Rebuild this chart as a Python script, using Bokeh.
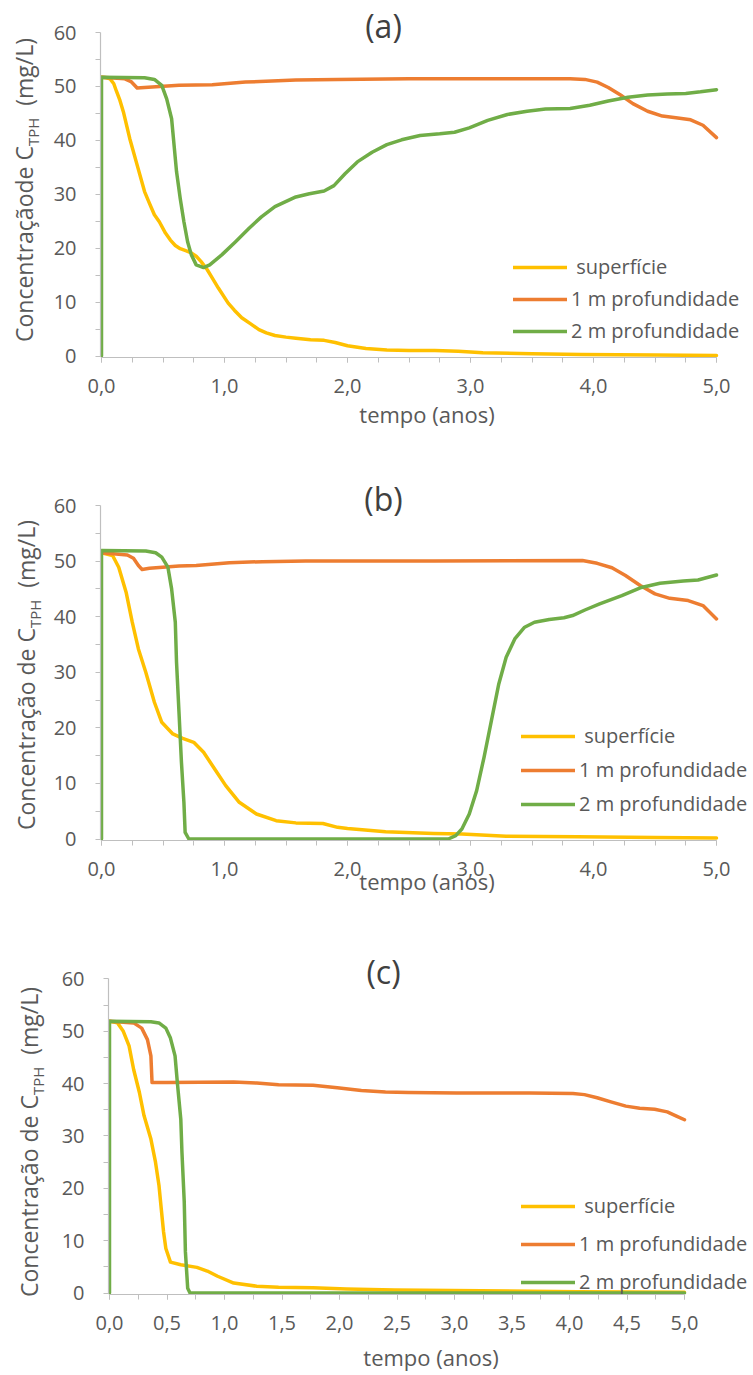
import numpy as np
from bokeh.plotting import figure
from bokeh.models import (Range1d, FixedTicker, CustomJSTickFormatter, Label,
                          Legend, LegendItem, Div)
from bokeh.layouts import column, row
from bokeh.embed import file_html
from bokeh.resources import INLINE

# ---------------- data ----------------
series_names = [" superfície", "1 m profundidade", "2 m profundidade"]
panel_titles = ["(a)", "(b)", "(c)"]
x_title = "tempo (anos)"
y_title_a = "Concentraçãode C"
y_title_bc = "Concentração de C"
y_sub = "TPH"
y_unit = "(mg/L)"
y_ticks = [0, 10, 20, 30, 40, 50, 60]
y_minor = [5, 15, 25, 35, 45, 55]

# panel (a)
t_a_sup = [0, 0.04, 0.07, 0.10, 0.12, 0.15, 0.18, 0.23, 0.29, 0.35, 0.39, 0.43, 0.47,
           0.52, 0.56, 0.60, 0.64, 0.69, 0.73, 0.77, 0.81, 0.86, 0.90, 0.95, 1.03, 1.08,
           1.14, 1.21, 1.28, 1.34, 1.41, 1.50, 1.58, 1.70, 1.81, 1.90, 2.0, 2.15, 2.32,
           2.5, 2.71, 2.9, 3.1, 3.5, 3.9, 4.5, 5.0]
c_a_sup = [51.7, 51.6, 51.4, 50.5, 49.2, 47.4, 45.1, 40.3, 35.4, 30.5, 28.3, 26.2, 24.9,
           22.8, 21.5, 20.5, 19.9, 19.5, 19.1, 18.5, 17.5, 16.0, 14.5, 12.6, 9.8, 8.5,
           7.1, 6.0, 4.9, 4.3, 3.8, 3.5, 3.3, 3.0, 2.9, 2.5, 1.9, 1.4, 1.1,
           1.0, 1.0, 0.9, 0.6, 0.4, 0.3, 0.2, 0.1]
t_a_1m = [0, 0.19, 0.24, 0.29, 0.35, 0.63, 0.90, 1.17, 1.58, 1.92, 2.5, 3.1, 3.5, 3.81,
          3.93, 4.03, 4.12, 4.22, 4.32, 4.44, 4.56, 4.67, 4.79, 4.89, 5.0]
c_a_1m = [51.7, 51.4, 50.9, 49.7, 49.8, 50.2, 50.3, 50.8, 51.2, 51.3, 51.4, 51.4, 51.4, 51.4,
          51.3, 50.8, 49.8, 48.4, 46.8, 45.4, 44.5, 44.2, 43.8, 42.8, 40.5]
t_a_2m = [0, 0, 0.35, 0.43, 0.49, 0.53, 0.57, 0.59, 0.61, 0.64, 0.67, 0.70, 0.73, 0.77,
          0.83, 0.88, 0.98, 1.09, 1.20, 1.30, 1.41, 1.58, 1.69, 1.81, 1.89, 1.98, 2.08,
          2.20, 2.32, 2.44, 2.59, 2.75, 2.87, 2.99, 3.14, 3.30, 3.46, 3.61, 3.81, 3.97,
          4.12, 4.28, 4.44, 4.60, 4.75, 4.87, 5.0]
c_a_2m = [0, 51.7, 51.6, 51.3, 50.2, 47.7, 44.0, 39.1, 34.2, 29.2, 24.9, 21.2, 18.8, 16.9,
          16.4, 16.9, 18.8, 21.2, 23.7, 25.8, 27.7, 29.5, 30.1, 30.6, 31.6, 33.8, 36.0,
          37.8, 39.2, 40.1, 40.9, 41.2, 41.5, 42.3, 43.7, 44.8, 45.4, 45.8, 45.9, 46.5,
          47.3, 48.0, 48.4, 48.6, 48.7, 49.0, 49.4]

# panel (b)
t_b_sup = [0, 0.09, 0.14, 0.20, 0.25, 0.30, 0.36, 0.43, 0.49, 0.58, 0.66, 0.75, 0.83,
           0.92, 1.01, 1.12, 1.26, 1.42, 1.58, 1.8, 1.92, 2.0, 2.31, 2.7, 2.93, 3.29,
           3.87, 4.5, 5.0]
c_b_sup = [51.5, 51.0, 48.9, 44.4, 39.0, 34.2, 30.0, 24.6, 21.0, 18.9, 18.1, 17.4, 15.6,
           12.6, 9.6, 6.6, 4.5, 3.3, 2.9, 2.8, 2.1, 1.9, 1.3, 1.0, 0.9, 0.5,
           0.4, 0.25, 0.2]
t_b_1m = [0, 0.21, 0.26, 0.30, 0.33, 0.39, 0.63, 0.77, 1.04, 1.31, 1.66, 2.7, 3.91, 4.03,
          4.15, 4.26, 4.38, 4.50, 4.62, 4.77, 4.89, 5.0]
c_b_1m = [51.5, 51.1, 50.5, 49.2, 48.5, 48.7, 49.1, 49.2, 49.7, 49.9, 50.0, 50.0, 50.1, 49.6,
          48.8, 47.4, 45.6, 44.1, 43.3, 42.9, 42.0, 39.6]
t_b_2m = [0, 0, 0.36, 0.44, 0.49, 0.54, 0.57, 0.60, 0.61, 0.63, 0.65, 0.67, 0.68, 0.71,
          2.82, 2.88, 2.93, 2.99, 3.05, 3.11, 3.17, 3.23, 3.29, 3.36, 3.44, 3.52, 3.64,
          3.76, 3.83, 3.93, 4.05, 4.23, 4.38, 4.54, 4.73, 4.85, 5.0]
c_b_2m = [0, 51.9, 51.8, 51.5, 50.7, 48.9, 45.0, 39.0, 31.8, 22.8, 13.8, 6.6, 1.2, 0,
          0, 0.6, 1.8, 4.5, 8.7, 14.7, 21.3, 27.9, 32.7, 36.0, 38.1, 39.0, 39.5,
          39.8, 40.2, 41.2, 42.3, 43.8, 45.2, 46.0, 46.4, 46.6, 47.5]

# panel (c)
t_c_sup = [0, 0.07, 0.12, 0.17, 0.21, 0.26, 0.30, 0.36, 0.40, 0.43, 0.45, 0.47, 0.49, 0.53,
           0.62, 0.76, 0.85, 0.94, 1.08, 1.28, 1.47, 1.77, 2.06, 2.48, 3.23, 4.07, 5.0]
c_c_sup = [51.9, 51.6, 50.0, 47.2, 42.7, 38.3, 33.9, 29.4, 25.0, 20.6, 16.1, 11.7, 8.5, 5.9,
           5.4, 4.9, 4.2, 3.2, 1.9, 1.3, 1.1, 1.0, 0.76, 0.57, 0.44, 0.25, 0.13]
t_c_1m = [0, 0.21, 0.28, 0.33, 0.36, 0.37, 0.50, 1.08, 1.28, 1.47, 1.77, 1.98, 2.19, 2.40,
          2.60, 3.02, 3.65, 4.03, 4.13, 4.24, 4.36, 4.49, 4.61, 4.74, 4.85, 4.93, 5.0]
c_c_1m = [51.9, 51.6, 50.6, 48.4, 45.3, 40.2, 40.2, 40.3, 40.1, 39.8, 39.7, 39.2, 38.7, 38.4,
          38.3, 38.2, 38.2, 38.1, 37.9, 37.3, 36.5, 35.7, 35.3, 35.1, 34.6, 33.8, 33.1]
t_c_2m = [0, 0, 0.36, 0.43, 0.49, 0.53, 0.57, 0.59, 0.62, 0.63, 0.65, 0.66, 0.68, 0.70, 5.0]
c_c_2m = [0, 51.9, 51.8, 51.6, 50.6, 48.7, 45.3, 40.2, 33.2, 26.9, 17.4, 7.9, 0.9, 0, 0]

x_major_ab = [0, 1, 2, 3, 4, 5]
x_major_c = [0, 0.5, 1, 1.5, 2, 2.5, 3, 3.5, 4, 4.5, 5]
x_minor = [0.25 * i for i in range(21)]

# ---------------- style / layout ----------------
W = 753
FONT = "Open Sans"
TXT = "#595959"
TITLE_C = "#404040"
AXC = "#BFBFBF"
COLORS = ["#FFC000", "#ED7D31", "#70AD47"]
LEFT = 50          # figure-internal left border (holds y tick labels)
YFS = 23           # y title font size (px)

# pixel anchors: px0/px5 = page x of t=0 / t=5, py0/py60 = figure y of 0 / 60
panels = [
    dict(h=445, divw=50, bottom=88, px0=101, px5=716, py0=355.5, py60=32,
         xmaj=x_major_ab, data=[(t_a_sup, c_a_sup), (t_a_1m, c_a_1m), (t_a_2m, c_a_2m)],
         title=(383, 25), ytxt=y_title_a, ybase=33, y1=342,
         leg=(513, 13, 5), xstand=3),
    dict(h=460, divw=50, bottom=65, px0=101, px5=716, py0=393.5, py60=60,
         xmaj=x_major_ab, data=[(t_b_sup, c_b_sup), (t_b_1m, c_b_1m), (t_b_2m, c_b_2m)],
         title=(383, 53), ytxt=y_title_bc, ybase=35, y1=385,
         leg=(521, 23, 7), xstand=-13),
    dict(h=469, divw=58, bottom=77, px0=109, px5=684, py0=390.5, py60=74,
         xmaj=x_major_c, data=[(t_c_sup, c_c_sup), (t_c_1m, c_c_1m), (t_c_2m, c_c_2m)],
         title=(383, 67), ytxt=y_title_bc, ybase=38, y1=392,
         leg=(521, -1, 11), xstand=9),
]

rows = []
for k, cfg in enumerate(panels):
    H = cfg["h"]
    divw = cfg["divw"]
    fw = W - divw
    frame_left = divw + LEFT          # page x
    frame_bottom = H - cfg["bottom"]  # figure y
    sx = (cfg["px5"] - cfg["px0"]) / 5.0
    sy = (cfg["py0"] - cfg["py60"]) / 60.0
    xr = Range1d((frame_left - cfg["px0"]) / sx, (W - cfg["px0"]) / sx)
    yr = Range1d((cfg["py0"] - frame_bottom) / sy, cfg["py0"] / sy)

    def dx(px, px0=cfg["px0"], sx=sx):
        return (px - px0) / sx

    def dy(py, py0=cfg["py0"], sy=sy):
        return (py0 - py) / sy

    p = figure(width=fw, height=H, output_backend="svg", toolbar_location=None,
               x_range=xr, y_range=yr,
               min_border_top=0, min_border_bottom=cfg["bottom"],
               min_border_left=LEFT, min_border_right=0)
    p.outline_line_color = None
    p.grid.visible = False
    p.background_fill_color = "white"
    p.border_fill_color = "white"

    xa = p.xaxis[0]
    xa.ticker = FixedTicker(ticks=cfg["xmaj"], minor_ticks=x_minor)
    xa.formatter = CustomJSTickFormatter(code="return tick.toFixed(1).replace('.', ',');")
    xa.bounds = (0, 5)
    xa.axis_label = x_title
    xa.axis_label_standoff = cfg["xstand"]
    xa.axis_label_text_font = FONT
    xa.axis_label_text_font_size = "22px"
    xa.axis_label_text_font_style = "normal"
    xa.axis_label_text_color = TXT
    xa.major_label_standoff = 16

    ya = p.yaxis[0]
    ya.ticker = FixedTicker(ticks=y_ticks, minor_ticks=y_minor)
    ya.bounds = (0, 60)
    ya.major_label_standoff = 19

    for ax in (xa, ya):
        ax.axis_line_color = AXC
        ax.axis_line_width = 1.2
        ax.major_tick_line_color = AXC
        ax.minor_tick_line_color = AXC
        ax.major_tick_in = 0
        ax.major_tick_out = 5
        ax.minor_tick_in = 0
        ax.minor_tick_out = 5
        ax.major_label_text_font = FONT
        ax.major_label_text_font_size = "20px"
        ax.major_label_text_color = TXT

    rends = []
    for (t, c), col in zip(cfg["data"], COLORS):
        rends.append(p.line(t, c, line_color=col, line_width=3.5, line_join="round",
                            line_cap="round"))

    lx, ly, sp = cfg["leg"]
    legend = Legend(items=[LegendItem(label=n, renderers=[r])
                           for n, r in zip(series_names, rends)],
                    location=(lx - frame_left, ly), orientation="vertical",
                    glyph_width=54, glyph_height=26, label_height=26,
                    label_standoff=4, spacing=sp, padding=0, margin=0,
                    border_line_alpha=0, background_fill_alpha=0,
                    label_text_font=FONT, label_text_font_size="20px",
                    label_text_color=TXT)
    p.add_layout(legend)

    tx, ty = cfg["title"]
    p.add_layout(Label(x=dx(tx), y=dy(ty), text=panel_titles[k],
                       text_font=FONT, text_font_size="32px",
                       text_color=TITLE_C, text_align="center",
                       text_baseline="middle"))

    # y-axis title (rotated HTML text with a real subscript)
    left = cfg["ybase"] - YFS * 0.888
    html = (f'<div style="position:absolute; left:{left:.1f}px; top:{cfg["y1"]}px; '
            f'transform:rotate(-90deg); transform-origin:0 0; white-space:nowrap; '
            f'font-family:\'{FONT}\'; font-size:{YFS}px; line-height:1; color:{TXT};">'
            f'{cfg["ytxt"]}<sub style="font-size:15px;">{y_sub}</sub>&nbsp;&nbsp;{y_unit}</div>')
    ydiv = Div(text=html, width=divw, height=H, margin=(0, 0, 0, 0),
               styles={"position": "relative", "overflow": "visible"})
    rows.append(row(ydiv, p, spacing=0))

layout = column(*rows, spacing=0)
open("out.html", "w").write(file_html(layout, INLINE))
